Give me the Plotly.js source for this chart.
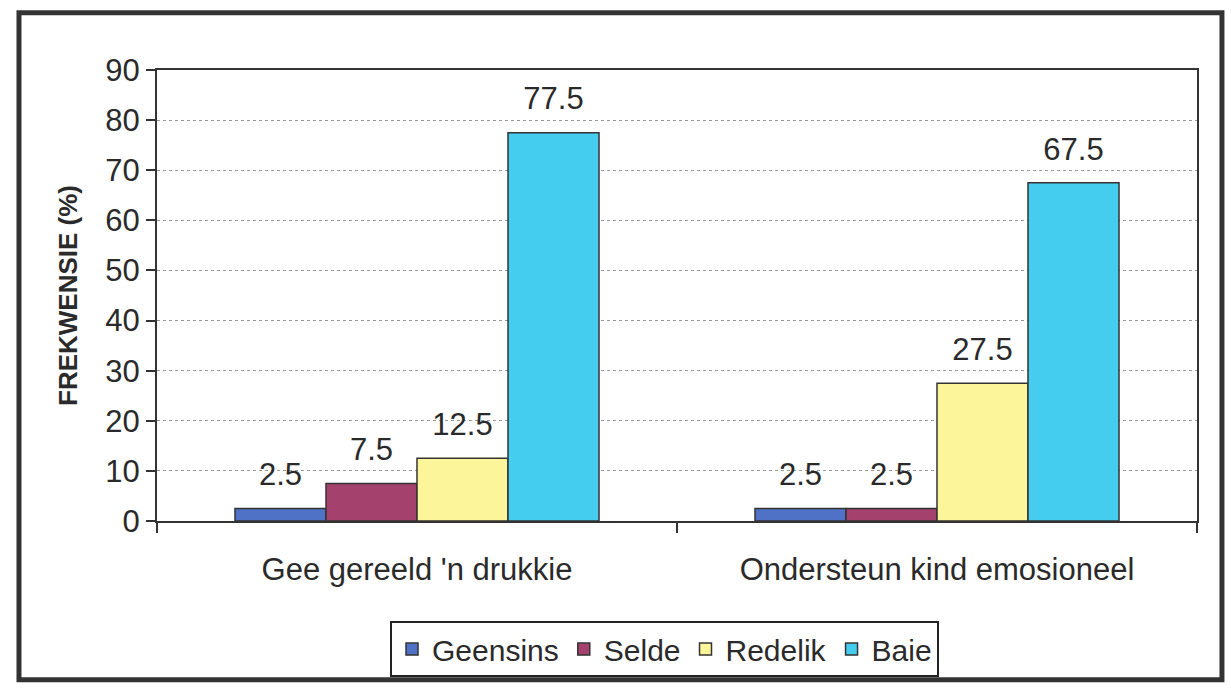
<!DOCTYPE html>
<html>
<head>
<meta charset="utf-8">
<script src="https://cdn.plot.ly/plotly-3.0.1.min.js"></script>
<style>html,body{margin:0;padding:0;background:#fff;}#chart{width:1231px;height:693px;}</style>
</head>
<body>
<div id="chart"></div>
<script>
var categories = ["Gee gereeld 'n drukkie", "Ondersteun kind emosioneel"];
var seriesNames = ["Geensins", "Selde", "Redelik", "Baie"];
var geensins = [2.5, 2.5];
var selde = [7.5, 2.5];
var redelik = [12.5, 27.5];
var baie = [77.5, 67.5];
var yTicks = [0, 10, 20, 30, 40, 50, 60, 70, 80, 90];

var colors = ["#4f72c6", "#a4416d", "#fdf59a", "#45cdf0"];
var values = [geensins, selde, redelik, baie];

var font = {family: "Liberation Sans, Arial, sans-serif", color: "#2a2a2a"};

var traces = seriesNames.map(function(name, i) {
  return {
    type: "bar",
    name: name,
    x: categories,
    y: values[i],
    text: values[i].map(function(v){ return "<span style='font-size:31px'>" + v.toFixed(1) + "</span><br><span style='font-size:8px'> </span>"; }),
    textposition: "outside",
    cliponaxis: false,
    textfont: {family: font.family, size: 14, color: "#2a2a2a"},
    marker: {color: colors[i], line: {color: "#333", width: 1.5}}
  };
});

var layout = {
  width: 1231, height: 693,
  margin: {l: 157, r: 34, t: 70, b: 172},
  paper_bgcolor: "#fff",
  plot_bgcolor: "#fff",
  barmode: "group",
  bargap: 0.3,
  bargroupgap: 0,
  showlegend: true,
  font: font,
  xaxis: {
    type: "category",
    tickson: "boundaries",
    ticks: "outside",
    ticklen: 10,
    tickcolor: "#333",
    tickwidth: 2,
    showline: true, linecolor: "#333", linewidth: 2, mirror: true,
    tickfont: {family: font.family, size: 31, color: "#2a2a2a"},
    ticklabelstandoff: 20,
    showgrid: false
  },
  yaxis: {
    range: [0, 90],
    tickvals: yTicks,
    ticks: "outside",
    ticklen: 9,
    tickcolor: "#333",
    tickwidth: 2,
    showline: true, linecolor: "#333", linewidth: 2, mirror: true,
    tickfont: {family: font.family, size: 31, color: "#2a2a2a"},
    showgrid: true,
    gridcolor: "#999",
    griddash: "dot",
    gridwidth: 1,
    zeroline: false,
    title: {text: "<b>FREKWENSIE (%)</b>", font: {family: font.family, size: 26, color: "#2a2a2a"}, standoff: 20}
  },
  legend: {
    orientation: "h",
    x: 0.488, xanchor: "center",
    y: -0.222, yanchor: "top",
    bordercolor: "#222", borderwidth: 2,
    bgcolor: "#fff",
    font: {family: font.family, size: 30, color: "#2a2a2a"},
    itemwidth: 30,
    tracegroupgap: 0,
    traceorder: "normal"
  },
  shapes: [{
    type: "rect", xref: "paper", yref: "paper",
    x0: -0.1327, x1: 1.024, y0: -0.352, y1: 1.127,
    line: {color: "#333", width: 5}
  }]
};

Plotly.newPlot("chart", traces, layout, {displayModeBar: false, staticPlot: true});
</script>
</body>
</html>
